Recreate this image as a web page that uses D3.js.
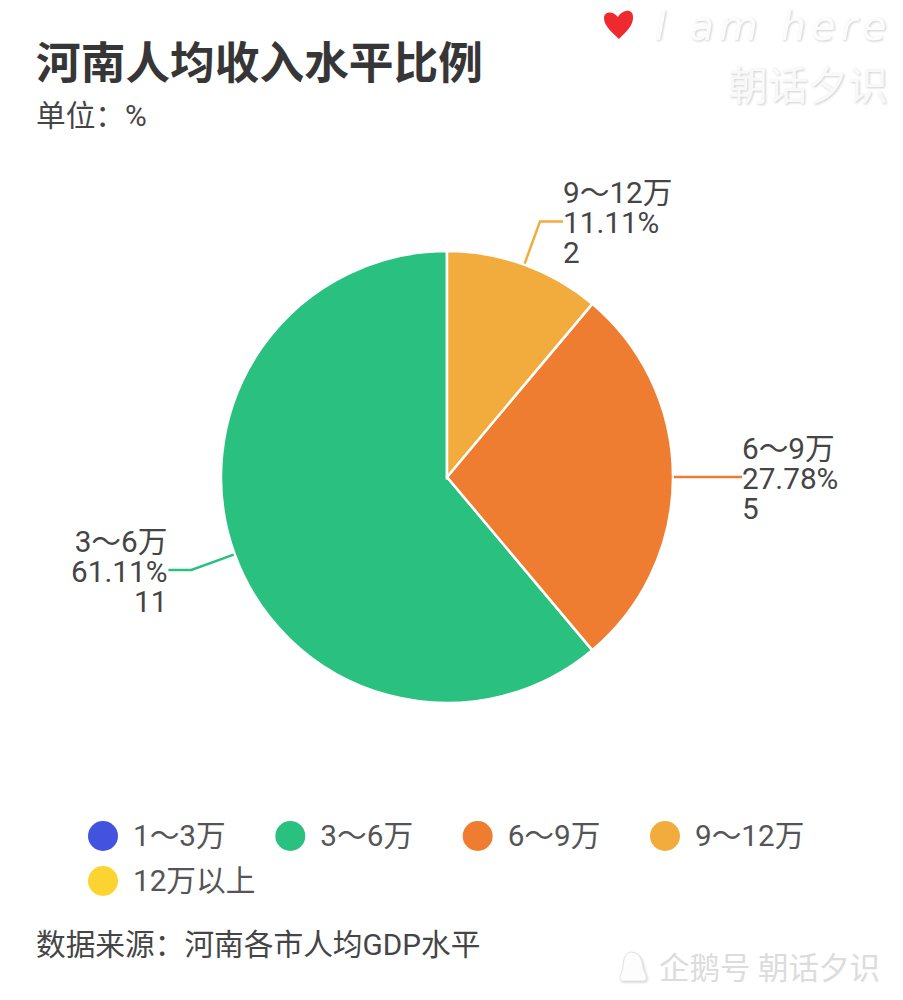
<!DOCTYPE html>
<html>
<head>
<meta charset="utf-8">
<script src="https://cdn.jsdelivr.net/npm/d3@7"></script>
<style>
  html, body { margin: 0; padding: 0; background: #fff; }
  text { font-family: Roboto, "Noto Sans CJK SC", sans-serif; }
  .mark { filter: drop-shadow(1px 1px 1px #d0d0d0); }
</style>
</head>
<body>
<svg id="chart" width="903" height="1000"></svg>
<script>
var categories = ["1～3万", "3～6万", "6～9万", "9～12万", "12万以上"];
var percents = [0, 61.11, 27.78, 11.11, 0];
var counts = [0, 11, 5, 2, 0];
var colors = ["#4353e0", "#2ac07f", "#ef7d31", "#f2ab3d", "#fcd432"];

var svg = d3.select("#chart");
var textColor = "#454545";
var bodySize = 29.7;

// title block
svg.append("text").attr("x", 36).attr("y", 79)
  .attr("font-size", 44.7).attr("font-weight", 700).attr("fill", "#363636")
  .text("河南人均收入水平比例");
svg.append("text").attr("x", 36).attr("y", 126)
  .attr("font-size", bodySize).attr("fill", textColor)
  .text("单位：%");
svg.append("text").attr("x", 36).attr("y", 955)
  .attr("font-size", bodySize).attr("fill", textColor)
  .text("数据来源：河南各市人均GDP水平");

// pie runs counter-clockwise from 12 o'clock
var cx = 447, cy = 477, radius = 226, elbowR = 272;
var pie = d3.pie().sort(null).startAngle(0).endAngle(-2 * Math.PI);
var arcs = pie(percents).map((d, i) => Object.assign(d, { index: i }));
var arc = d3.arc().innerRadius(0).outerRadius(radius);

var g = svg.append("g").attr("transform", `translate(${cx},${cy})`);
g.selectAll("path.slice")
  .data(arcs.filter(d => d.value > 0))
  .enter().append("path")
  .attr("class", "slice")
  .attr("d", arc)
  .attr("fill", d => colors[d.index])
  .attr("stroke", "#fff")
  .attr("stroke-width", 2.5);

// leader lines and labels
arcs.filter(d => d.value > 0).forEach((d) => {
  var mid = (d.startAngle + d.endAngle) / 2;
  var sx = Math.sin(mid), sy = -Math.cos(mid);
  var right = sx > 0;
  var p0 = [sx * (radius + 1), sy * (radius + 1)];
  var p1 = [sx * elbowR, sy * elbowR];
  var p2 = [p1[0] + (right ? 23 : -23), p1[1]];
  g.append("path")
    .attr("d", d3.line()([p0, p1, p2]))
    .attr("fill", "none")
    .attr("stroke", colors[d.index])
    .attr("stroke-width", 2.5);

  var lines = [categories[d.index], d3.format(".2f")(d.value) + "%", String(counts[d.index])];
  var tx = p2[0] + (right ? 0 : -1);
  var label = g.append("text")
    .attr("font-size", bodySize)
    .attr("fill", textColor)
    .attr("text-anchor", right ? "start" : "end");
  lines.forEach((t, i) => {
    label.append("tspan").attr("x", tx).attr("y", p2[1] + 12 + (i - 1) * 30).text(t);
  });
});

// legend, 4 per row
var legendX = d3.scaleLinear().domain([0, 3]).range([103, 665]);
var legendY = d3.scaleLinear().domain([0, 1]).range([836, 881]);
var legend = svg.selectAll("g.legend")
  .data(categories)
  .enter().append("g")
  .attr("class", "legend")
  .attr("transform", (d, i) => `translate(${legendX(i % 4)},${legendY(Math.floor(i / 4))})`);
legend.append("circle").attr("r", 15).attr("fill", (d, i) => colors[i]);
legend.append("text")
  .attr("x", 30).attr("y", 10)
  .attr("font-size", bodySize)
  .attr("fill", "#555")
  .text(d => d);

// watermarks
svg.append("path")
  .attr("d", "M619 39 C612 32 604 26 604 18 C604 12 612 10 618 17 C622 10 632 8 633 16 C634 25 626 32 619 39 Z")
  .attr("fill", "#ee2a2e");
svg.append("text").attr("class", "mark").attr("x", 655).attr("y", 40)
  .attr("font-size", 40).attr("font-style", "italic").attr("letter-spacing", 5)
  .attr("fill", "#fcfcfc").style("font-family", "'DejaVu Sans'")
  .text("I am here");
svg.append("text").attr("class", "mark").attr("x", 728).attr("y", 100)
  .attr("font-size", 40).attr("fill", "#f9f9f9")
  .text("朝话夕识");
svg.append("path").attr("class", "mark")
  .attr("d", "M631 952 C622 953 624 966 622 971 C620 975 619 980 622 981 L644 981 C648 980 646 975 644 971 C642 965 643 953 631 952 Z")
  .attr("fill", "#fdfdfd").attr("stroke", "#e4e4e4").attr("stroke-width", 1);
svg.append("text").attr("x", 659).attr("y", 979)
  .attr("font-size", 30.5).attr("fill", "#dcdcdc")
  .text("企鹅号 朝话夕识");
</script>
</body>
</html>
